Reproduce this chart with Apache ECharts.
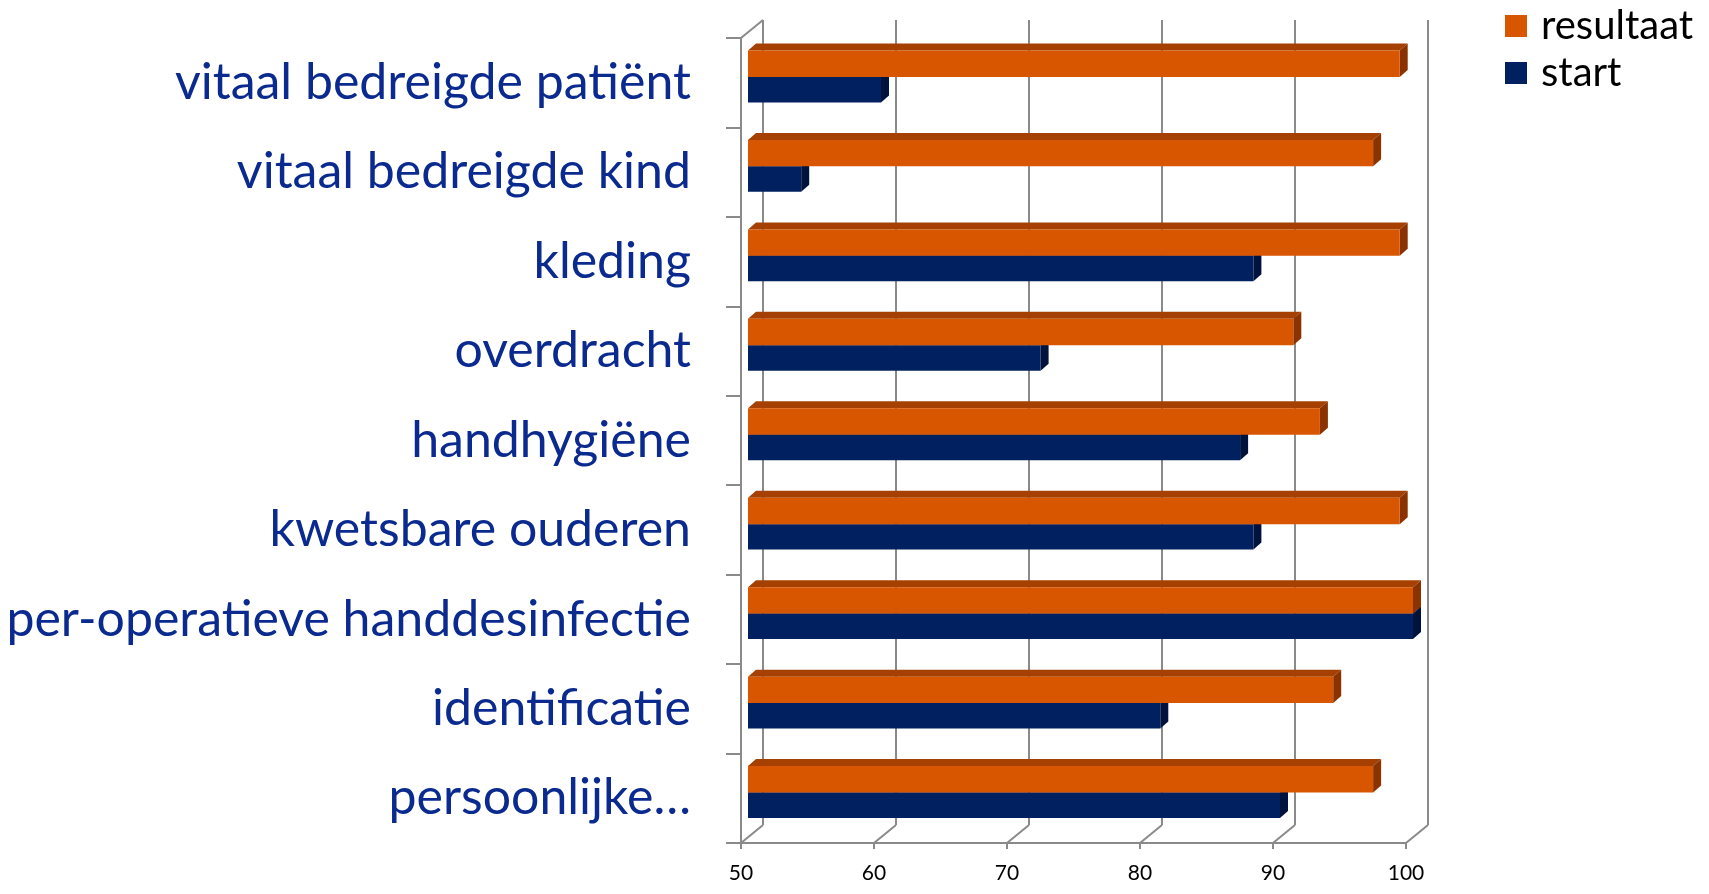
<!DOCTYPE html>
<html>
<head>
<meta charset="utf-8">
<title>resultaat / start</title>
<script src="https://cdn.jsdelivr.net/npm/echarts@6/dist/echarts.min.js"></script>
<style>
  html, body { margin: 0; padding: 0; background: #fff; }
  #main { width: 1709px; height: 894px; }
</style>
</head>
<body>
<div id="main"></div>
<script>
var categories = ['vitaal bedreigde patiënt', 'vitaal bedreigde kind', 'kleding', 'overdracht', 'handhygiëne', 'kwetsbare ouderen', 'per-operatieve handdesinfectie', 'identificatie', 'persoonlijke…'];
var resultaat = [99, 97, 99, 91, 93, 99, 100, 94, 97];
var start = [60, 54, 88, 72, 87, 88, 100, 81, 90];
var xTicks = [50, 60, 70, 80, 90, 100];

// 3D look: back wall offset and bar depth
var WALL_DX = 22, WALL_DY = -18;
var BAR_DX = 8, BAR_DY = -7;
var LINE = '#8a8a8a';

function bar3d(slot, front, topc, side) {
  return function (params, api) {
    var cat = api.value(0);
    var p0 = api.coord([xTicks[0], cat]);
    var p1 = api.coord([api.value(1), cat]);
    var band = api.size([0, 1])[1];
    var y0 = p0[1] + band * (slot === 0 ? -0.36 : -0.065);
    var y1 = p0[1] + band * (slot === 0 ? -0.065 : 0.22);
    var x0 = p0[0] + 7, x1 = p1[0] + 7;
    return {
      type: 'group',
      children: [
        { type: 'polygon', shape: { points: [[x0, y0], [x1, y0], [x1 + BAR_DX, y0 + BAR_DY], [x0 + BAR_DX, y0 + BAR_DY]] }, style: { fill: topc } },
        { type: 'polygon', shape: { points: [[x1, y0], [x1 + BAR_DX, y0 + BAR_DY], [x1 + BAR_DX, y1 + BAR_DY], [x1, y1]] }, style: { fill: side } },
        { type: 'rect', shape: { x: x0, y: y0, width: x1 - x0, height: y1 - y0 }, style: { fill: front } }
      ]
    };
  };
}

function walls(params, api) {
  var cs = params.coordSys;
  var x = api.coord([api.value(0), 0])[0];
  var yb = cs.y + cs.height;
  var kids = [
    { type: 'line', shape: { x1: x, y1: yb, x2: x + WALL_DX, y2: yb + WALL_DY }, style: { stroke: LINE, lineWidth: 2 } }
  ];
  if (api.value(0) === xTicks[0]) {
    kids.push({ type: 'line', shape: { x1: x, y1: cs.y, x2: x + WALL_DX, y2: cs.y + WALL_DY }, style: { stroke: LINE, lineWidth: 2 } });
  }
  return { type: 'group', children: kids };
}

var myChart = echarts.init(document.getElementById('main'));
myChart.setOption({
  animation: false,
  legend: {
    data: ['resultaat', 'start'],
    orient: 'vertical',
    left: 1500,
    top: 0,
    icon: 'rect',
    itemWidth: 22,
    itemHeight: 22,
    itemGap: 5,
    textStyle: { fontFamily: 'Lato', fontSize: 40, color: '#000', lineHeight: 42, padding: [0, 0, 0, 9] }
  },
  grid: [
    { left: 741, top: 38, width: 665, height: 805 },
    { left: 741 + WALL_DX, top: 38 + WALL_DY, width: 665, height: 805 }
  ],
  xAxis: [
    {
      type: 'value', gridIndex: 0, min: 50, max: 100, interval: 10,
      axisLine: { show: true, lineStyle: { color: LINE, width: 2 } },
      axisTick: { show: true, length: 6, lineStyle: { color: LINE, width: 2 } },
      axisLabel: { fontFamily: 'Lato', fontSize: 21, color: '#000', margin: 20 },
      splitLine: { show: false }
    },
    {
      type: 'value', gridIndex: 1, min: 50, max: 100, interval: 10,
      axisLine: { show: false }, axisTick: { show: false }, axisLabel: { show: false },
      splitLine: { show: true, lineStyle: { color: LINE, width: 2 } }
    }
  ],
  yAxis: [
    {
      type: 'category', gridIndex: 0, data: categories, inverse: true,
      axisLine: { show: true, lineStyle: { color: LINE, width: 2 } },
      axisTick: { show: true, length: 15, lineStyle: { color: LINE, width: 2 } },
      axisLabel: { fontFamily: 'Lato', fontSize: 50, color: '#0b2a8f', margin: 50, padding: [7, 0, 0, 0] }
    },
    { type: 'category', gridIndex: 1, data: categories, show: false }
  ],
  series: [
    {
      name: 'wall', type: 'custom', xAxisIndex: 0, yAxisIndex: 0, silent: true,
      renderItem: walls, data: xTicks.map(function (v) { return [v, 0]; }), z: 1
    },
    {
      name: 'start', type: 'custom', xAxisIndex: 0, yAxisIndex: 0,
      itemStyle: { color: '#00205f' },
      renderItem: bar3d(1, '#00205f', '#001a4e', '#00133d'),
      encode: { x: 1, y: 0 },
      data: start.map(function (v, i) { return [i, v]; })
    },
    {
      name: 'resultaat', type: 'custom', xAxisIndex: 0, yAxisIndex: 0,
      itemStyle: { color: '#d85600' },
      renderItem: bar3d(0, '#d85600', '#a54000', '#8a3300'),
      encode: { x: 1, y: 0 },
      data: resultaat.map(function (v, i) { return [i, v]; })
    }
  ]
});
</script>
</body>
</html>
